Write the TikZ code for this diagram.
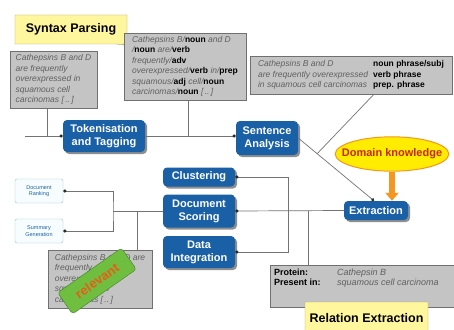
\documentclass[tikz,border=0pt]{standalone}
\usepackage{fontspec}
\setmainfont{Liberation Sans}
\usetikzlibrary{shapes,shapes.callouts,arrows.meta,positioning,shadows,calc}
\definecolor{stageBlue}{RGB}{26,96,166}
\definecolor{noteGray}{RGB}{196,196,196}
\definecolor{noteEdge}{RGB}{112,112,112}
\definecolor{inkGray}{RGB}{96,96,96}
\definecolor{labelYellow}{RGB}{255,246,158}
\definecolor{labelEdge}{RGB}{170,160,110}
\definecolor{domainYellow}{RGB}{255,236,0}
\definecolor{domainOrange}{RGB}{244,150,32}
\definecolor{domainRed}{RGB}{196,40,20}
\definecolor{stampGreen}{RGB}{112,190,64}
\definecolor{stampEdge}{RGB}{62,128,40}
\definecolor{stampInk}{RGB}{232,92,24}
\definecolor{outputEdge}{RGB}{150,198,200}
\newcommand{\gram}[1]{{\upshape\bfseries\color{black}#1}}

\begin{document}
\begin{tikzpicture}[x=1pt,y=-1pt,
    stage/.style={rounded corners=4pt,fill=stageBlue,text=white,align=center,
                  font=\bfseries\fontsize{11}{13}\selectfont,inner sep=2pt,
                  drop shadow={shadow xshift=2pt,shadow yshift=-2pt,fill=black!55,opacity=0.8}},
    sample/.style={fill=noteGray,draw=noteEdge,text=inkGray,align=left,
                   font=\itshape\fontsize{8.5}{10.5}\selectfont,inner sep=3pt},
    output/.style={rounded corners=2pt,fill=cyan!3,draw=outputEdge,text=stageBlue,
                   align=center,font=\fontsize{5.5}{6.5}\selectfont,
                   minimum width=48pt,minimum height=24pt},
    heading/.style={rectangle callout,fill=labelYellow,draw=labelEdge,
                    font=\bfseries\fontsize{12.5}{14}\selectfont},
    link/.style={draw=black!55,line width=0.7pt},
    hit/.style={-{Circle[length=3.2pt,color=black!85]}},
    hits/.style={{Circle[length=3.2pt,color=black!85]}-{Circle[length=3.2pt,color=black!85]}}
  ]
  \useasboundingbox[fill=white] (0,0) rectangle (454,329);

  \node[heading,minimum width=112pt,minimum height=29pt,
        callout absolute pointer={(133,46)}] (synhead) at (71,29.5) {Syntax Parsing};
  \node[sample,minimum width=87pt,minimum height=57pt] (rawtext) at (53.5,79.5)
    {Cathepsins B and D\\are frequently\\overexpressed in\\squamous cell\\carcinomas [\,..\,]};
  \node[sample,minimum width=122pt,minimum height=67pt] (tagged) at (185,66.5)
    {Cathepsins B/\gram{noun} and D\\/\gram{noun} are/\gram{verb}\\frequently/\gram{adv}\\
     overexpressed/\gram{verb} in/\gram{prep}\\squamous/\gram{adj} cell/\gram{noun}\\
     carcinomas/\gram{noun} [\,..\,]};
  \node[sample,minimum width=202pt,minimum height=38pt] (phrases) at (351,75)
    {\begin{tabular}{@{}l@{\hspace{5pt}}l@{}}
      Cathepsins B and D & \gram{noun phrase/subj}\\
      are frequently overexpressed & \gram{verb phrase}\\
      in squamous cell carcinomas & \gram{prep. phrase}
     \end{tabular}};

  \node[stage,minimum width=82pt,minimum height=32pt] (tok) at (104,136) {Tokenisation\\and Tagging};
  \node[stage,minimum width=62pt,minimum height=34pt] (sent) at (267,138) {Sentence\\Analysis};
  \node[stage,minimum width=72pt,minimum height=19pt] (clus) at (199,177) {Clustering};
  \node[stage,minimum width=72pt,minimum height=33pt] (score) at (199,211) {Document\\Scoring};
  \node[stage,minimum width=72pt,minimum height=32pt] (integ) at (199,252) {Data\\Integration};
  \node[stage,minimum width=64pt,minimum height=19pt] (extr) at (376,210.5) {Extraction};

  \node[ellipse,fill=domainYellow,draw=domainOrange,line width=1pt,text=domainRed,
        font=\bfseries\fontsize{11}{12}\selectfont,inner xsep=-10pt,inner ysep=7pt] (domain) at (392,154)
    {Domain knowledge};
  \draw[-{Triangle[length=8pt,width=13pt]},line width=6pt,domainOrange]
    (domain.south) -- (domain.south |- extr.north);

  \node[output] (rank) at (39,191) {Document\\Ranking};
  \node[output] (summ) at (39,231) {Summary\\Generation};

  \node[sample,minimum width=104pt,minimum height=58pt] (judged) at (100,279)
    {Cathepsins B and D are\\frequently\\overexpressed in\\squamous cell\\carcinomas [\,..\,]};
  \node[rounded corners=3pt,fill=stampGreen,draw=stampEdge,text=stampInk,rotate=35,
        font=\bfseries\fontsize{13}{15}\selectfont,minimum width=78pt,minimum height=26pt] (relevant) at (97,281)
    {relevant};

  \node[sample,minimum width=184pt,minimum height=42pt] (facts) at (362,286) {};
  \node[below right=1pt and 2pt of facts.north west,inner sep=2pt,font=\fontsize{9}{10.5}\selectfont] (factrows)
    {\begin{tabular}{@{}p{63pt}@{}l@{}}
      \textbf{Protein:} & \textit{\color{inkGray}Cathepsin B}\\
      \textbf{Present in:} & \textit{\color{inkGray}squamous cell carcinoma}
     \end{tabular}};
  \node[heading,minimum width=123pt,minimum height=32pt,
        callout absolute pointer={(432,345)}] (relhead) at (366.5,318) {Relation Extraction};

  \coordinate (entry) at (25,136);
  \coordinate (fork) at (113,211);
  \coordinate (drop) at (137,211);
  \coordinate (split) at (308,211);
  \coordinate (join) at ($(sent.east)!0.25!([xshift=-2pt]extr.north)$);

  \draw[link,hit] (entry) -- (tok.west);
  \draw[link] ([xshift=-6pt]rawtext.south) -- ([xshift=-6pt]rawtext.south |- entry);
  \draw[link,hit] (tok.east) -- (tok.east -| sent.west);
  \draw[link] ([xshift=3pt]tagged.south) -- ([xshift=3pt]tagged.south |- tok.east);
  \draw[link,hit] (sent.east) -- ([xshift=-2pt]extr.north);
  \draw[link] ([xshift=23pt]phrases.south) -- (join);
  \draw[link,hits] (clus.east) -- ++(53,0) |- (integ.east);
  \draw[link,hit] (extr.west) -- (score.east);
  \draw[link] (split) -- (split |- facts.north);
  \draw[link] (score.west) -- (fork);
  \draw[link,hits] (rank.east) -| (fork) |- (summ.east);
  \draw[link] (drop) -- (drop |- judged.north);
\end{tikzpicture}
\end{document}
